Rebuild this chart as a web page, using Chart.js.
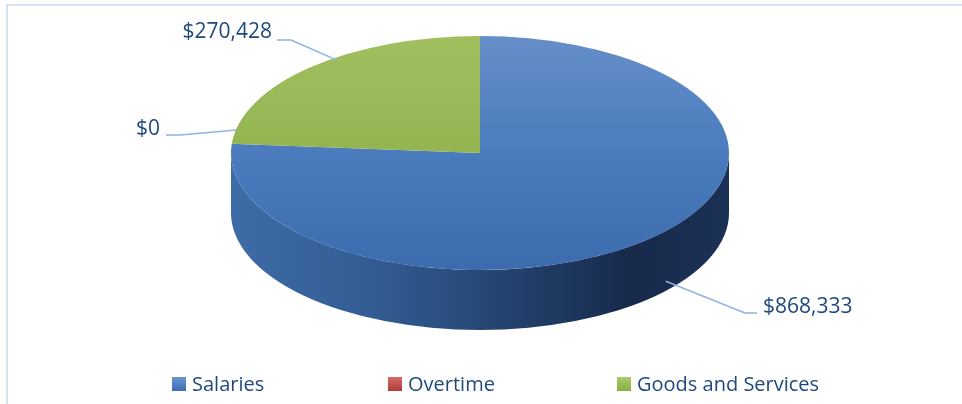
<!DOCTYPE html>
<html><head><meta charset="utf-8">
<script src="https://cdn.jsdelivr.net/npm/chart.js@4.4.0/dist/chart.umd.min.js"></script>
<style>
html,body{margin:0;padding:0;background:#fff;}
#wrap{position:relative;width:962px;height:404px;overflow:hidden;}
#frame{position:absolute;left:6px;top:4px;width:1000px;height:500px;border-top:2px solid #d7e3f4;border-left:2px solid #d7e3f4;}
canvas{position:absolute;left:0;top:0;}
</style></head><body>
<div id="wrap"><div id="frame"></div><canvas id="c" width="962" height="404"></canvas></div>
<script>
// ---- data ----
const categories = ['Salaries', 'Overtime', 'Goods and Services'];
const values = [868333, 0, 270428];

// ---- styles ----
const FONT = '"Open Sans", "DejaVu Sans", sans-serif';
const TEXT_COLOR = '#1f497d';
const topStops = [
  [[0, '#668ec9'], [0.5, '#4a7cbd'], [1, '#3d6cae']],
  [[0, '#d0625f'], [1, '#b33d3a']],
  [[0, '#a0bf5f'], [1, '#88a945']]
];
const sideStops = [
  [[0, '#3e6ca8'], [0.3, '#325b91'], [0.55, '#24436f'], [0.8, '#172a4b'], [1, '#1b3155']],
  [[0, '#9a3a37'], [1, '#5a1f1d']],
  [[0, '#7a9638'], [1, '#4a5c22']]
];
const legendBox = [
  [[0, '#6a95d2'], [1, '#3b6cb2']],
  [[0, '#d66c69'], [1, '#b13a37']],
  [[0, '#a9cb6c'], [1, '#8aae44']]
];
const geom = { rx: 249, ry: 117, depth: 60 };

function fmt(v) { return '$' + v.toLocaleString('en-US'); }

function grad(ctx, x0, y0, x1, y1, stops) {
  const g = ctx.createLinearGradient(x0, y0, x1, y1);
  stops.forEach(s => g.addColorStop(s[0], s[1]));
  return g;
}

const pie3d = {
  id: 'pie3d',
  beforeDatasetsDraw(chart) {
    const ctx = chart.ctx, meta = chart.getDatasetMeta(0);
    const a0 = meta.data[0];
    const cx = a0.x, cy = a0.y, R = a0.outerRadius;
    const { rx, ry, depth } = geom;
    meta.data.forEach((arc, i) => {
      const s = arc.startAngle, e = arc.endAngle;
      for (const k of [-2, 0, 2]) {
        const lo = Math.max(s, k * Math.PI), hi = Math.min(e, (k + 1) * Math.PI);
        if (hi > lo) {
          ctx.save();
          ctx.beginPath();
          ctx.ellipse(cx, cy, rx, ry, 0, lo, hi, false);
          ctx.ellipse(cx, cy + depth, rx, ry, 0, hi, lo, true);
          ctx.closePath();
          ctx.fillStyle = grad(ctx, cx - rx, 0, cx + rx, 0, sideStops[i]);
          ctx.fill();
          ctx.restore();
        }
      }
    });
    ctx.save();
    ctx.translate(cx, cy);
    ctx.scale(rx / R, ry / R);
    ctx.translate(-cx, -cy);
  },
  afterDatasetsDraw(chart) {
    chart.ctx.restore();
  }
};

const labelsPlugin = {
  id: 'valueLabels',
  afterDraw(chart) {
    const ctx = chart.ctx, meta = chart.getDatasetMeta(0);
    const a0 = meta.data[0];
    const cx = a0.x, cy = a0.y;
    const { rx, ry, depth } = geom;
    // frac: where along the slice the leader line touches; dy: vertical shift onto the side
    const spec = [
      { tx: 763, ty: 307, align: 'left', p1: [757, 313], p2: [745, 313], frac: 0.475, dy: depth * 0.9 },
      { tx: 160, ty: 129, align: 'right', p1: [166, 135], p2: [180, 135], frac: 0, dy: -14 },
      { tx: 272, ty: 32, align: 'right', p1: [277, 40], p2: [291, 40], frac: 0.58, dy: 0 }
    ];
    ctx.save();
    meta.data.forEach((arc, i) => {
      const sp = spec[i];
      const t = arc.startAngle + sp.frac * (arc.endAngle - arc.startAngle);
      const ax = cx + rx * Math.cos(t) * 0.98, ay = cy + ry * Math.sin(t) * 0.98 + sp.dy;
      ctx.strokeStyle = '#8db4e3';
      ctx.lineWidth = 1.6;
      ctx.beginPath();
      ctx.moveTo(sp.p1[0], sp.p1[1]);
      ctx.lineTo(sp.p2[0], sp.p2[1]);
      ctx.lineTo(ax, ay);
      ctx.stroke();
      ctx.fillStyle = TEXT_COLOR;
      ctx.font = '21px ' + FONT;
      ctx.textAlign = sp.align;
      ctx.textBaseline = 'middle';
      ctx.fillText(fmt(values[i]), sp.tx, sp.ty);
    });
    // legend
    const lx = [172, 388, 617];
    const ly = 384;
    categories.forEach((c, i) => {
      ctx.fillStyle = grad(ctx, 0, ly - 7, 0, ly + 7, legendBox[i]);
      ctx.fillRect(lx[i], ly - 7, 14, 14);
      ctx.fillStyle = TEXT_COLOR;
      ctx.font = '20px ' + FONT;
      ctx.textAlign = 'left';
      ctx.textBaseline = 'middle';
      ctx.fillText(c, lx[i] + 20, ly + 1);
    });
    ctx.restore();
  }
};

new Chart(document.getElementById('c'), {
  type: 'pie',
  data: {
    labels: categories,
    datasets: [{
      data: values,
      borderWidth: 0,
      clip: false,
      backgroundColor: (c) => {
        const a = c.chart.chartArea;
        if (!a) return '#4a7ebb';
        const cy = (a.top + a.bottom) / 2;
        const R = Math.min(a.right - a.left, a.bottom - a.top) / 2;
        return grad(c.chart.ctx, 0, cy - R, 0, cy + R, topStops[c.dataIndex]);
      }
    }]
  },
  options: {
    responsive: false,
    animation: false,
    layout: { padding: { left: 0, right: 2, top: 0, bottom: 98 } },
    plugins: { legend: { display: false }, tooltip: { enabled: false } }
  },
  plugins: [pie3d, labelsPlugin]
});
</script>
</body></html>
